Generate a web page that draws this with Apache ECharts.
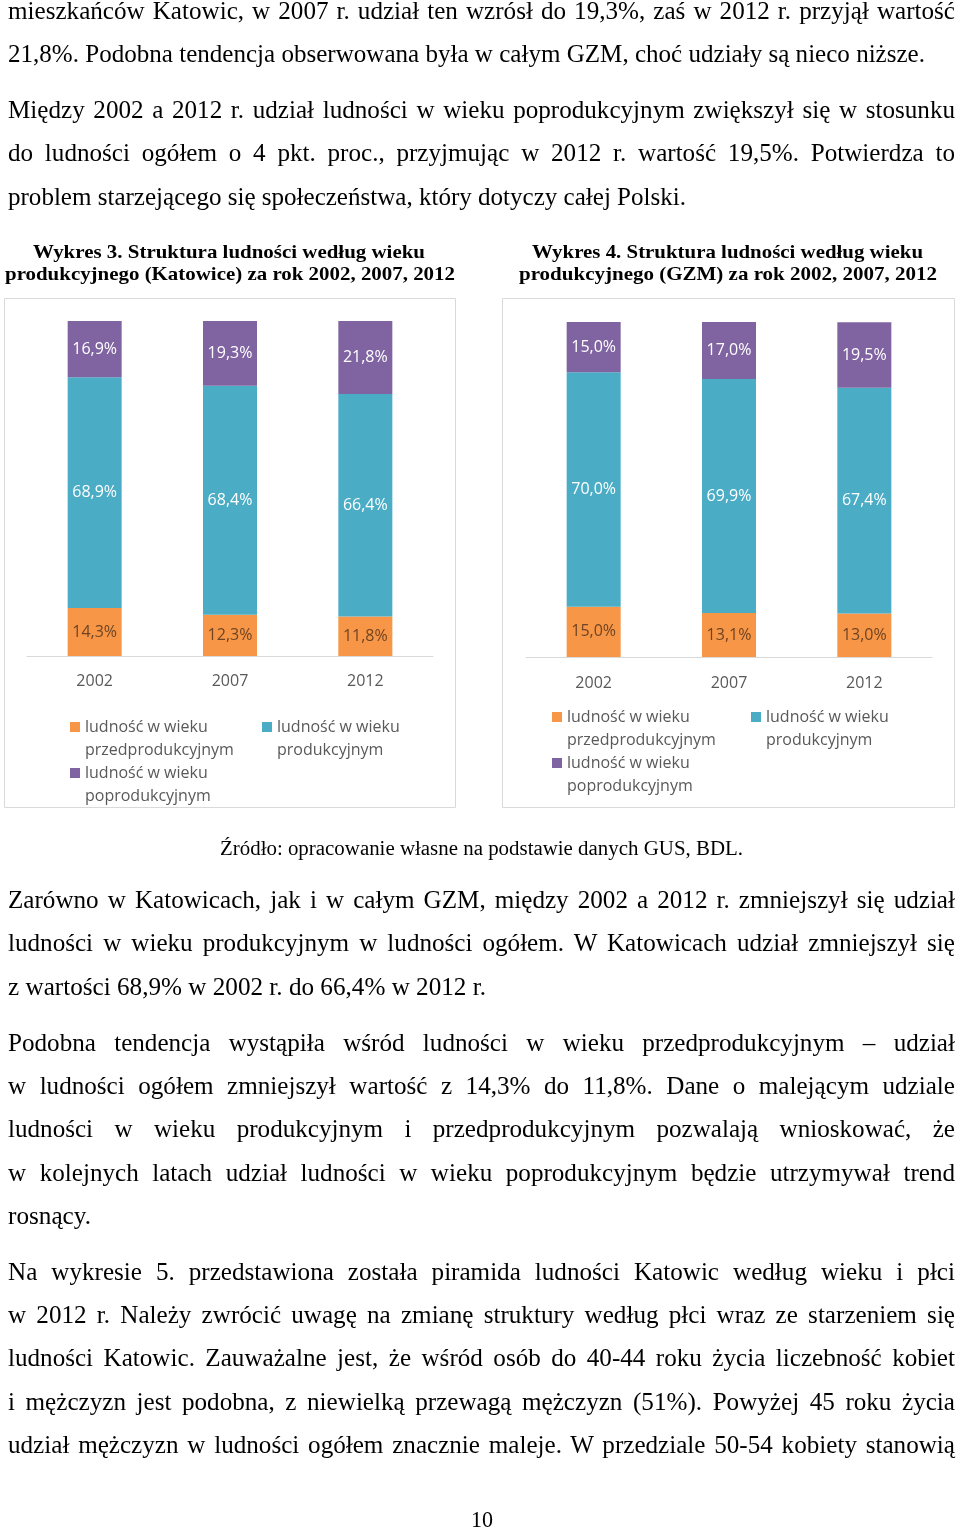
<!DOCTYPE html>
<html><head><meta charset="utf-8">
<script src="https://cdn.jsdelivr.net/npm/echarts@6/dist/echarts.min.js"></script>
<style>
html,body{margin:0;padding:0;background:#fff;width:960px;height:1530px;overflow:hidden;}
#chart{position:absolute;left:0;top:0;width:960px;height:1530px;}
.ln{position:absolute;white-space:nowrap;font-family:"Liberation Serif","Times New Roman",serif;color:#000;transform-origin:0 0;}
</style></head>
<body>
<div id="chart"></div>
<div id="txt"></div>
<script>
// ---------- data ----------
const years = ['2002', '2007', '2012'];
const seriesNames = ['ludność w wieku przedprodukcyjnym', 'ludność w wieku produkcyjnym', 'ludność w wieku poprodukcyjnym'];
const katPrzed = [14.3, 12.3, 11.8];
const katProd = [68.9, 68.4, 66.4];
const katPoprod = [16.9, 19.3, 21.8];
const gzmPrzed = [15.0, 13.1, 13.0];
const gzmProd = [70.0, 69.9, 67.4];
const gzmPoprod = [15.0, 17.0, 19.5];

const title3 = ['Wykres 3. Struktura ludności według wieku', 'produkcyjnego (Katowice) za rok 2002, 2007, 2012'];
const title4 = ['Wykres 4. Struktura ludności według wieku', 'produkcyjnego (GZM) za rok 2002, 2007, 2012'];
const sourceText = 'Źródło: opracowanie własne na podstawie danych GUS, BDL.';
const pageNumber = '10';
const para1 = ['mieszkańców Katowic, w 2007 r. udział ten wzrósł do 19,3%, zaś w 2012 r. przyjął wartość',
  '21,8%. Podobna tendencja obserwowana była w całym GZM, choć udziały są nieco niższe.'];
const para2 = ['Między 2002 a 2012 r. udział ludności w wieku poprodukcyjnym zwiększył się w stosunku',
  'do ludności ogółem o 4 pkt. proc., przyjmując w 2012 r. wartość 19,5%. Potwierdza to',
  'problem starzejącego się społeczeństwa, który dotyczy całej Polski.'];
const para3 = ['Zarówno w Katowicach, jak i w całym GZM, między 2002 a 2012 r. zmniejszył się udział',
  'ludności w wieku produkcyjnym w ludności ogółem. W Katowicach udział zmniejszył się',
  'z wartości 68,9% w 2002 r. do 66,4% w 2012 r.'];
const para4 = ['Podobna tendencja wystąpiła wśród ludności w wieku przedprodukcyjnym – udział',
  'w ludności ogółem zmniejszył wartość z 14,3% do 11,8%. Dane o malejącym udziale',
  'ludności w wieku produkcyjnym i przedprodukcyjnym pozwalają wnioskować, że',
  'w kolejnych latach udział ludności w wieku poprodukcyjnym będzie utrzymywał trend',
  'rosnący.'];
const para5 = ['Na wykresie 5. przedstawiona została piramida ludności Katowic według wieku i płci',
  'w 2012 r. Należy zwrócić uwagę na zmianę struktury według płci wraz ze starzeniem się',
  'ludności Katowic. Zauważalne jest, że wśród osób do 40-44 roku życia liczebność kobiet',
  'i mężczyzn jest podobna, z niewielką przewagą mężczyzn (51%). Powyżej 45 roku życia',
  'udział mężczyzn w ludności ogółem znacznie maleje. W przedziale 50-54 kobiety stanowią'];

// ---------- text layout ----------
const txt = document.getElementById('txt');
function makeSpan(text, fs, bold) {
  const d = document.createElement('div');
  d.className = 'ln';
  d.style.fontSize = fs + 'px';
  d.style.lineHeight = fs + 'px';
  if (bold) d.style.fontWeight = 'bold';
  d.textContent = text;
  txt.appendChild(d);
  return d;
}
function fitText(text, left, right, baseline, fs, bold) {
  const d = makeSpan(text, fs, bold);
  const w = d.getBoundingClientRect().width;
  d.style.left = left + 'px';
  d.style.top = (baseline - 0.8375 * fs) + 'px';
  d.style.transform = 'scaleX(' + ((right - left) / w) + ')';
}
function centerText(text, cx, width, baseline, fs, bold) {
  fitText(text, cx - width / 2, cx + width / 2, baseline, fs, bold);
}
const BODY_FS = 25, L = 8, R = 955, LH = 43.4;
// paragraphs: [lines, first baseline, end x of last line]
const paras = [[para1, 18.7, 925], [para2, 117.7, 686], [para3, 908, 486], [para4, 1050.5, 91], [para5, 1279.5, null]];
let ks = [];
const pending = [];
paras.forEach(([lines, b0, lastEnd]) => {
  lines.forEach((t, i) => {
    const isLast = (i === lines.length - 1) && lastEnd !== null;
    const d = makeSpan(t, BODY_FS, false);
    const w = d.getBoundingClientRect().width;
    const base = b0 + i * LH;
    if (isLast) ks.push((lastEnd - L) / w);
    pending.push({d, w, base, isLast, lastEnd, t});
  });
});
const k = ks.reduce((a, b) => a + b, 0) / ks.length;
pending.forEach(p => {
  p.d.style.left = L + 'px';
  p.d.style.top = (p.base - 0.8375 * BODY_FS) + 'px';
  if (p.isLast) {
    p.d.style.transform = 'scaleX(' + ((p.lastEnd - L) / p.w) + ')';
  } else {
    const nSp = (p.t.match(/ /g) || []).length;
    const extra = ((R - L) / k - p.w) / nSp;
    p.d.style.wordSpacing = extra + 'px';
    p.d.style.transform = 'scaleX(' + k + ')';
  }
});
centerText(title3[0], 229, 392, 258, 19, true);
centerText(title3[1], 230, 450, 280, 19, true);
centerText(title4[0], 727.5, 391, 258, 19, true);
centerText(title4[1], 728, 418, 280, 19, true);
centerText(sourceText, 481.5, 523, 855, 20, false);
centerText(pageNumber, 482, 22, 1527, 24, false);

// ---------- chart ----------
const COLORS = ['#F79646', '#4BACC6', '#8064A2'];
const LABEL_COLORS = ['#6f4424', '#ffffff', '#ffffff'];
const FONT = '"Open Sans", "Noto Sans", sans-serif';
const chart = echarts.init(document.getElementById('chart'), null, {renderer: 'canvas'});
function barSeries(name, data, idx, gi) {
  return {
    name, type: 'bar', stack: 'g' + gi, xAxisIndex: gi, yAxisIndex: gi, data,
    barWidth: 54, itemStyle: {color: COLORS[idx]},
    label: {show: true, position: 'inside', color: LABEL_COLORS[idx], fontSize: 16, fontFamily: FONT,
      formatter: p => p.value.toFixed(1).replace('.', ',') + '%'},
    emphasis: {disabled: true}
  };
}
function legendItem(name, left, iconCenterY) {
  return {
    data: [name], left, top: iconCenterY - 34.5, padding: 0, icon: 'rect', itemWidth: 10, itemHeight: 10,
    selectedMode: false,
    formatter: n => '\n' + n.replace('wieku ', 'wieku\n'),
    textStyle: {color: '#595959', fontSize: 16, fontFamily: FONT, lineHeight: 23}
  };
}
const axisX = (gi, margin) => ({
  type: 'category', gridIndex: gi, data: years,
  axisLine: {lineStyle: {color: '#d9d9d9', width: 1}}, axisTick: {show: false},
  axisLabel: {color: '#595959', fontSize: 16, fontFamily: FONT, margin}
});
const axisY = gi => ({type: 'value', gridIndex: gi, min: 0, max: 100, show: false});
chart.setOption({
  animation: false,
  color: COLORS,
  grid: [{left: 27, top: 321, width: 406, height: 335}, {left: 526, top: 322, width: 406, height: 335}],
  xAxis: [axisX(0, 17), axisX(1, 18)],
  yAxis: [axisY(0), axisY(1)],
  legend: [
    legendItem(seriesNames[0], 70, 727), legendItem(seriesNames[1], 262, 727), legendItem(seriesNames[2], 70, 773),
    legendItem(seriesNames[0], 552, 717), legendItem(seriesNames[1], 751, 717), legendItem(seriesNames[2], 552, 763)
  ],
  graphic: [
    {type: 'rect', shape: {x: 4.5, y: 298.5, width: 451, height: 509}, style: {fill: 'none', stroke: '#d9d9d9', lineWidth: 1}, silent: true},
    {type: 'rect', shape: {x: 502.5, y: 298.5, width: 452, height: 509}, style: {fill: 'none', stroke: '#d9d9d9', lineWidth: 1}, silent: true}
  ],
  series: [
    barSeries(seriesNames[0], katPrzed, 0, 0),
    barSeries(seriesNames[1], katProd, 1, 0),
    barSeries(seriesNames[2], katPoprod, 2, 0),
    barSeries(seriesNames[0], gzmPrzed, 0, 1),
    barSeries(seriesNames[1], gzmProd, 1, 1),
    barSeries(seriesNames[2], gzmPoprod, 2, 1)
  ]
});
</script>
</body></html>
